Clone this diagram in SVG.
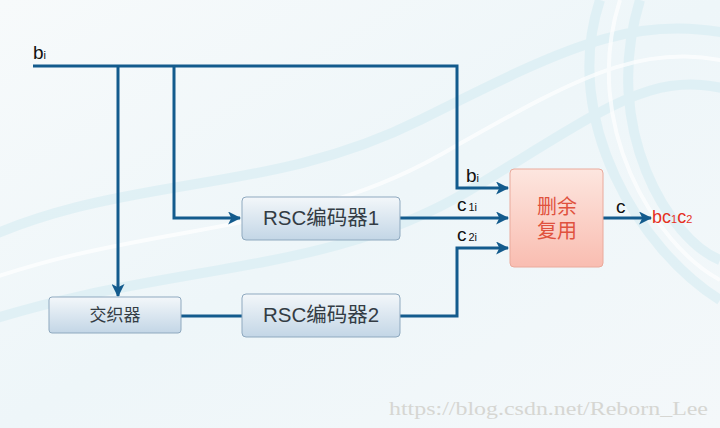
<svg xmlns="http://www.w3.org/2000/svg" width="720" height="428" viewBox="0 0 720 428">
  <defs>
    <linearGradient id="bg" x1="0" y1="0" x2="1" y2="1">
      <stop offset="0" stop-color="#f7fafb"/>
      <stop offset="0.5" stop-color="#eef6f9"/>
      <stop offset="1" stop-color="#f4f8fa"/>
    </linearGradient>
    <linearGradient id="nodeFill" x1="0" y1="0" x2="0" y2="1">
      <stop offset="0" stop-color="#f3f7fa"/>
      <stop offset="1" stop-color="#c3d6e6"/>
    </linearGradient>
    <linearGradient id="muxFill" x1="0" y1="0" x2="0" y2="1">
      <stop offset="0" stop-color="#fde6df"/>
      <stop offset="1" stop-color="#f9bdb1"/>
    </linearGradient>
    <marker id="arrow" viewBox="0 0 12 12" refX="11" refY="6" markerWidth="13" markerHeight="13" markerUnits="userSpaceOnUse" orient="auto">
      <path d="M0,0 L12,6 L0,12 L3,6 Z" fill="#135b8d"/>
    </marker>
    <style>
      .line { fill: none; stroke: #135b8d; stroke-width: 3; }
      .node { fill: url(#nodeFill); stroke: #8fa9bf; stroke-width: 1; }
      .mux { fill: url(#muxFill); stroke: #eaaa9c; stroke-width: 1; }
      .t { font-family: "Liberation Sans", "Noto Sans CJK SC", sans-serif; fill: #333c44; }
      .lab { font-family: "Liberation Sans", "Noto Sans CJK SC", sans-serif; fill: #111; }
      .red { font-family: "Liberation Sans", "Noto Sans CJK SC", sans-serif; fill: #e5301f; }
      .mt { font-family: "Liberation Sans", "Noto Sans CJK SC", sans-serif; fill: #e0523e; }
    </style>
  </defs>

  <!-- background -->
  <rect x="0" y="0" width="720" height="428" fill="url(#bg)"/>
  <g fill="none" stroke="#d6edf3" stroke-width="10" opacity="0.6">
    <path d="M-40,250 C120,170 260,200 420,120 S640,10 760,40"/>
    <path d="M-40,330 C160,260 320,280 470,190 S660,60 760,100"/>
    <path d="M600,0 C560,120 640,250 720,300"/>
    <path d="M640,0 C600,130 670,240 720,260"/>
  </g>
  <g fill="none" stroke="#ffffff" stroke-width="4" opacity="0.7">
    <path d="M-40,290 C140,220 290,240 440,155 S650,35 760,70"/>
    <path d="M620,0 C580,125 655,245 720,280"/>
  </g>

  <!-- connectors -->
  <g id="connectors">
    <path class="line" d="M33,66 H457 V188 H508" marker-end="url(#arrow)"/>
    <path class="line" d="M118,66 V296" marker-end="url(#arrow)"/>
    <path class="line" d="M174,66 V218 H240" marker-end="url(#arrow)"/>
    <path class="line" d="M400,218 H508" marker-end="url(#arrow)"/>
    <path class="line" d="M181,316 H242"/>
    <path class="line" d="M400,316 H457 V248 H508" marker-end="url(#arrow)"/>
    <path class="line" d="M603,218 H651" marker-end="url(#arrow)"/>
  </g>

  <!-- labels -->
  <g id="labels">
    <text class="lab" x="33" y="59" font-size="19">b<tspan font-size="11">i</tspan></text>
    <text class="lab" x="466" y="182" font-size="19">b<tspan font-size="11">i</tspan></text>
    <text class="lab" x="457" y="211" font-size="19">c<tspan font-size="11" dx="2">1i</tspan></text>
    <text class="lab" x="457" y="241" font-size="19">c<tspan font-size="11" dx="2">2i</tspan></text>
    <text class="lab" x="616" y="213" font-size="19">c</text>
    <text class="red" x="652" y="223" font-size="18">bc<tspan font-size="11">1</tspan>c<tspan font-size="11">2</tspan></text>
  </g>

  <!-- nodes -->
  <g id="rsc1">
    <rect class="node" x="242" y="197" width="158" height="43" rx="4"/>
    <text class="t" x="321" y="225" font-size="20.5" text-anchor="middle">RSC编码器1</text>
  </g>
  <g id="rsc2">
    <rect class="node" x="242" y="294" width="158" height="43" rx="4"/>
    <text class="t" x="321" y="322" font-size="20.5" text-anchor="middle">RSC编码器2</text>
  </g>
  <g id="interleaver">
    <rect class="node" x="49" y="297" width="132" height="36" rx="3"/>
    <text class="t" x="115" y="321" font-size="17" text-anchor="middle">交织器</text>
  </g>
  <g id="mux">
    <rect class="mux" x="510" y="169" width="93" height="98" rx="4"/>
    <text class="mt" x="557" y="214" font-size="20" text-anchor="middle">删余</text>
    <text class="mt" x="557" y="238" font-size="20" text-anchor="middle">复用</text>
  </g>

  <!-- watermark -->
  <text x="389" y="415" font-family="'Liberation Serif', 'DejaVu Serif', serif" font-size="19" fill="#d6d6d2" textLength="319" lengthAdjust="spacingAndGlyphs">https://blog.csdn.net/Reborn_Lee</text>
</svg>
